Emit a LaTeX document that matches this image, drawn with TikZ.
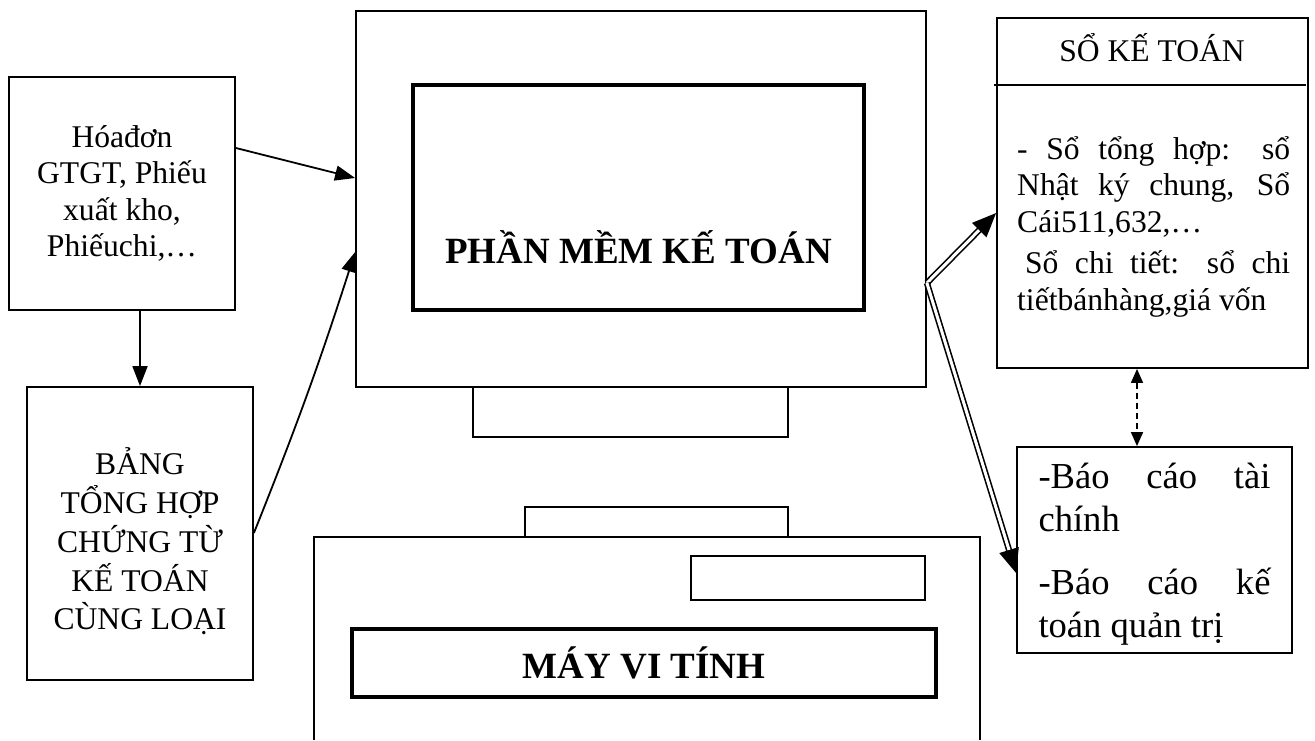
\documentclass[tikz,border=0pt]{standalone}
\usepackage{fontspec}
\setmainfont{Liberation Serif}
\usetikzlibrary{arrows.meta}

\begin{document}
\begin{tikzpicture}[x=1pt, y=-1pt]
    \tikzstyle{box}=[draw, rectangle, line width=1.8pt, inner sep=0pt]
    \tikzstyle{thickbox}=[draw, rectangle, line width=4pt, inner sep=0pt]
    \tikzstyle{txt}=[font=\fontsize{31.6}{36.5}\selectfont]
    \tikzstyle{bigtxt}=[font=\fontsize{37}{44}\selectfont\bfseries]
    \tikzstyle{arr}=[line width=1.8pt, -{Triangle[length=20pt, width=15pt]}]
    \tikzstyle{dblarr}=[line width=1.6pt, double, double distance=3pt, -{Triangle[length=24pt, width=20pt]}]

    \useasboundingbox (0,0) rectangle (1315,740);

    % Documents
    \node[box, txt, minimum width=226, minimum height=233, align=center] (hoadon) at (122,193.5) {Hóađơn\\GTGT, Phiếu\\xuất kho,\\Phiếuchi,…};
    \node[box, minimum width=226, minimum height=293] (bang) at (140,533.5) {};
    \node[font=\fontsize{31.6}{38.7}\selectfont, align=center] (bangtext) at ([yshift=-8]bang.center) {BẢNG\\TỔNG HỢP\\CHỨNG TỪ\\KẾ TOÁN\\CÙNG LOẠI};

    % Monitor
    \node[box, minimum width=570, minimum height=376] (monitor) at (641,199) {};
    \node[thickbox, minimum width=451, minimum height=225] (screen) at (638.5,197.5) {};
    \node[bigtxt] (screentext) at (638.5,247) {PHẦN MỀM KẾ TOÁN};
    \node[box, minimum width=315, minimum height=50] (stand) at (630.5,412) {};

    % Computer case
    \node[box, minimum width=263, minimum height=30] (slot) at (656.5,522) {};
    \draw[line width=1.8pt] (314,740) |- (980,537) -- (980,740);
    \node[box, minimum width=234, minimum height=44] (drive) at (808,578) {};
    \node[thickbox, bigtxt, minimum width=584, minimum height=68] (caselabel) at (644,663) {MÁY VI TÍNH};

    % Books
    \node[box, minimum width=311, minimum height=350] (so) at (1152.5,193) {};
    \draw[line width=1.8pt] (994,85) -- (1306,85);
    \node[txt] (sotitle) at (1152,48) {SỔ KẾ TOÁN};
    \node[txt, text width=273, align=justify, anchor=north west, inner sep=0pt] (sobody) at (1017,136) {- Sổ tổng hợp: sổ\linebreak Nhật ký chung, Sổ\linebreak Cái511,632,…\par\vspace{5pt}\hspace{0.25em}Sổ chi tiết: sổ chi\linebreak tiếtbánhàng,giá vốn};

    % Reports
    \node[box, minimum width=275, minimum height=206] (baocao) at (1154.5,550) {};
    \node[font=\fontsize{36.6}{43}\selectfont, text width=232, align=justify] (baocaotext) at ([yshift=-4]baocao.center) {-Báo cáo tài\linebreak chính\par\vspace{20pt}-Báo cáo kế\linebreak toán quản trị};

    % Connections
    \draw[arr] ([yshift=45.5]hoadon.east) -- ([yshift=21]monitor.west);
    \draw[arr] (bang.north |- hoadon.south) -- (bang.north);
    \draw[arr] ([yshift=0.5]bang.east) to[bend right=2] ([yshift=-53]monitor.west);

    \coordinate (split) at ([yshift=-84]monitor.east);
    \draw[dblarr] (split) -- ([yshift=-20]so.west);
    \draw[dblarr] (split) -- ([yshift=-23]baocao.west);

    \draw[dash pattern=on 6pt off 4pt, line width=1.6pt, {Triangle[length=14pt, width=12pt]}-{Triangle[length=14pt, width=12pt]}] ([xshift=-15.5]so.south) -- ([xshift=-15.5]so.south |- baocao.north);
\end{tikzpicture}
\end{document}
